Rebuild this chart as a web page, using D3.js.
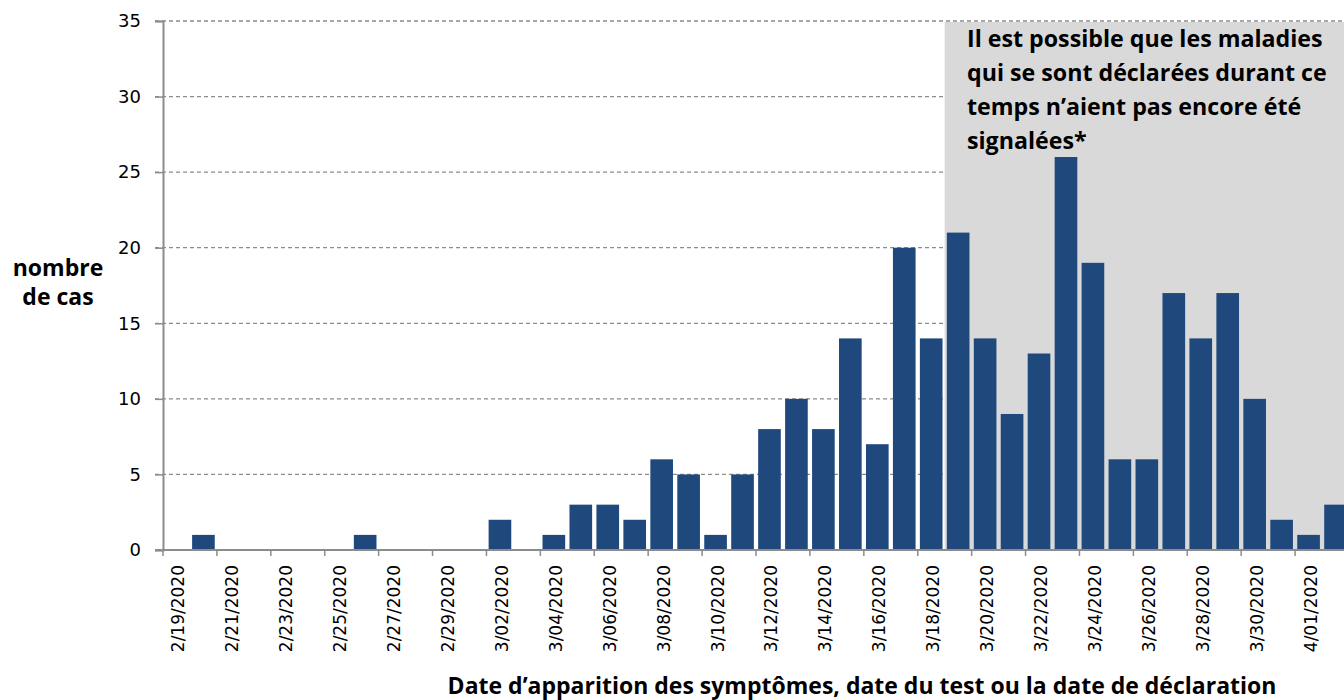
<!DOCTYPE html>
<html>
<head>
<meta charset="utf-8">
<script src="https://cdn.jsdelivr.net/npm/d3@7"></script>
<style>
  body { margin: 0; background: #fff; }
  svg { display: block; }
</style>
</head>
<body>
<svg class="caseChart"></svg>
<script>
// daily case counts, one entry per date
const dates = [
  '2/19/2020','2/20/2020','2/21/2020','2/22/2020','2/23/2020','2/24/2020','2/25/2020','2/26/2020',
  '2/27/2020','2/28/2020','2/29/2020','3/01/2020','3/02/2020','3/03/2020','3/04/2020','3/05/2020',
  '3/06/2020','3/07/2020','3/08/2020','3/09/2020','3/10/2020','3/11/2020','3/12/2020','3/13/2020',
  '3/14/2020','3/15/2020','3/16/2020','3/17/2020','3/18/2020','3/19/2020','3/20/2020','3/21/2020',
  '3/22/2020','3/23/2020','3/24/2020','3/25/2020','3/26/2020','3/27/2020','3/28/2020','3/29/2020',
  '3/30/2020','3/31/2020','4/01/2020','4/02/2020'
]
const cases = [
  0, 1, 0, 0, 0, 0, 0, 1,
  0, 0, 0, 0, 2, 0, 1, 3,
  3, 2, 6, 5, 1, 5, 8, 10,
  8, 14, 7, 20, 14, 21, 14, 9,
  13, 26, 19, 6, 6, 17, 14, 17,
  10, 2, 1, 3
]
const yTicks = [0, 5, 10, 15, 20, 25, 30, 35]
const shadeFrom = '3/19/2020'
const noteLines = [
  'Il est possible que les maladies',
  'qui se sont déclarées durant ce',
  'temps n’aient pas encore été',
  'signalées*'
]
const yTitle = ['nombre', 'de cas']
const xTitle = 'Date d’apparition des symptômes, date du test ou la date de déclaration'

const width = 1344, height = 700
const plotLeft = 163, plotRight = 1349, plotTop = 21, plotBottom = 550
const boldFont = 'Open Sans'

const svg = d3.select('svg.caseChart')
    .attr('width', width)
    .attr('height', height)

const x = d3.scaleBand()
    .domain(dates)
    .range([plotLeft, plotRight])
    .paddingInner(0.16)
    .paddingOuter(0.08)

const y = d3.scaleLinear()
    .domain([0, 35])
    .range([plotBottom, plotTop])

const step = (plotRight - plotLeft) / dates.length
const edge = i => plotLeft + i * step

// dashed grid lines
svg.append('g')
    .selectAll('line')
    .data(yTicks.filter(d => d > 0))
    .join('line')
    .attr('x1', plotLeft - 8)
    .attr('x2', width)
    .attr('y1', d => y(d))
    .attr('y2', d => y(d))
    .attr('stroke', '#8c8c8c')
    .attr('stroke-width', 1.3)
    .attr('stroke-dasharray', '4,3')

// shaded "not yet reported" zone
svg.append('rect')
    .attr('x', edge(dates.indexOf(shadeFrom)))
    .attr('y', y(35) + 1)
    .attr('width', width - edge(dates.indexOf(shadeFrom)))
    .attr('height', y(0) - y(35) - 1)
    .attr('fill', '#d9d9d9')

// bars
svg.append('g')
    .selectAll('rect')
    .data(dates.map((d, i) => ({ date: d, value: cases[i] })))
    .join('rect')
    .attr('x', d => x(d.date))
    .attr('y', d => y(d.value))
    .attr('width', x.bandwidth())
    .attr('height', d => y(0) - y(d.value))
    .attr('fill', '#1f497d')

// y axis
const yAxis = svg.append('g')
    .attr('transform', `translate(${plotLeft},0)`)
    .call(d3.axisLeft(y).tickValues(yTicks).tickSize(8).tickPadding(14))
yAxis.select('.domain').attr('stroke', '#8c8c8c').attr('stroke-width', 2)
yAxis.selectAll('.tick line').attr('stroke', '#8c8c8c').attr('stroke-width', 1.5)
yAxis.selectAll('.tick text')
    .attr('font-family', 'DejaVu Sans')
    .attr('font-size', 18)
    .attr('fill', '#000')

// x axis line
svg.append('line')
    .attr('x1', plotLeft - 8)
    .attr('x2', width)
    .attr('y1', plotBottom)
    .attr('y2', plotBottom)
    .attr('stroke', '#8c8c8c')
    .attr('stroke-width', 2)

// x tick marks every second date, at the cell edges
const labelIdx = dates.map((d, i) => i).filter(i => i % 2 === 0)
svg.append('g')
    .selectAll('line')
    .data(labelIdx)
    .join('line')
    .attr('x1', i => edge(i))
    .attr('x2', i => edge(i))
    .attr('y1', plotBottom)
    .attr('y2', plotBottom + 6)
    .attr('stroke', '#8c8c8c')
    .attr('stroke-width', 1.5)

// x labels, rotated
svg.append('g')
    .selectAll('text')
    .data(labelIdx)
    .join('text')
    .attr('transform', i => `translate(${x(dates[i]) + x.bandwidth() / 2 + 2},${plotBottom + 15}) rotate(-90)`)
    .attr('text-anchor', 'end')
    .attr('dy', '0.35em')
    .attr('font-family', 'DejaVu Sans')
    .attr('font-size', 17)
    .text(i => dates[i])

// note in the shaded zone
svg.append('g')
    .selectAll('text')
    .data(noteLines)
    .join('text')
    .attr('x', 967)
    .attr('y', (d, i) => 47 + i * 34)
    .attr('font-family', boldFont)
    .attr('font-weight', 'bold')
    .attr('font-size', 23.2)
    .attr('fill', '#000')
    .text(d => d)

// axis titles
svg.append('g')
    .selectAll('text')
    .data(yTitle)
    .join('text')
    .attr('x', 58)
    .attr('y', (d, i) => 276 + i * 29)
    .attr('text-anchor', 'middle')
    .attr('font-family', boldFont)
    .attr('font-weight', 'bold')
    .attr('font-size', 23)
    .text(d => d)

svg.append('text')
    .attr('x', 862)
    .attr('y', 694)
    .attr('text-anchor', 'middle')
    .attr('font-family', boldFont)
    .attr('font-weight', 'bold')
    .attr('font-size', 23)
    .text(xTitle)
</script>
</body>
</html>
